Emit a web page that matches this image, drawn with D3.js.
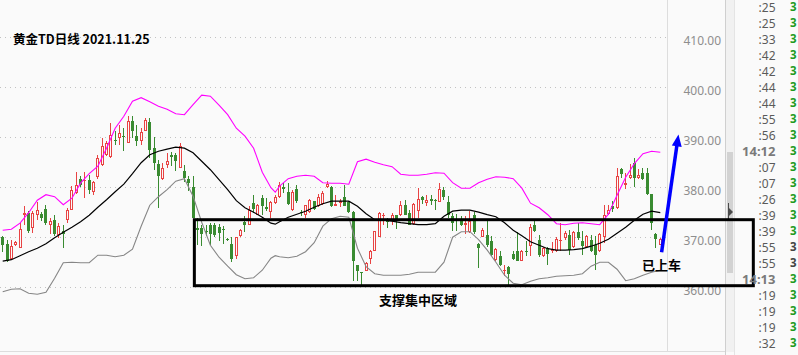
<!DOCTYPE html>
<html><head><meta charset="utf-8">
<script src="https://cdn.jsdelivr.net/npm/d3@7"></script>
<style>
html,body{margin:0;padding:0;background:#fafafa;overflow:hidden;}
svg{display:block;}
</style></head><body>
<svg id="c" width="798" height="355"></svg>
<script>
// ---------- data ----------
const opens = [369.9,368.5,365.6,368.4,367.7,374.3,374.7,371.7,374.3,374.5,375.5,372.4,373.3,370.4,371.2,373.4,375.3,378.7,381.5,381.2,
381.3,378.9,381.9,384.4,386.4,385.9,389.4,389.7,390.2,388.7,393.2,390.1,389.2,391.2,392.9,387.7,384.5,381.6,384.4,386.4,
386.4,383.7,383.1,381.6,379.9,371.7,371.7,371.2,372.3,372.4,371.9,371.5,369.6,368.5,366.1,370.1,372.9,372.4,376.7,374.4,
377.7,375.9,374.9,376.7,377.9,379.9,378.9,375.4,379.5,374.9,374.4,374.9,377.1,376.1,376.5,379.9,379.9,376.2,376.7,377.9,
376.9,374.9,364.3,362.9,363.2,365.6,367.2,370.0,374.1,373.3,373.2,374.3,374.3,376.4,374.7,372.5,375.2,377.9,376.7,377.5,
377.3,376.9,379.4,376.9,374.1,373.3,373.2,372.4,370.9,374.4,368.5,369.9,370.3,369.1,365.4,366.1,363.1,363.9,366.5,367.1,
365.2,367.2,368.2,372.4,369.3,366.1,367.7,367.1,367.1,369.2,369.7,370.4,367.9,370.9,369.2,367.9,369.4,368.3,367.1,369.9,
374.5,376.1,375.7,383.5,380.4,381.7,384.7,381.7,382.7,382.7,378.5,370.5,368.4];
const highs = [370.1,369.4,369.4,369.2,372.7,376.1,375.1,375.1,376.9,374.9,376.3,373.7,374.3,372.8,372.4,375.7,380.1,382.9,382.1,382.9,
382.3,381.1,386.4,389.7,389.1,392.7,391.1,392.4,391.7,394.1,394.1,392.4,391.7,393.7,393.7,389.9,385.4,384.7,386.7,387.0,
386.7,388.7,384.3,382.1,382.1,373.7,372.4,372.4,372.7,372.7,372.5,372.1,369.7,369.9,369.9,371.6,374.1,376.1,378.4,376.5,
378.4,377.7,377.1,378.3,380.9,380.7,380.7,379.4,380.4,375.4,376.4,377.5,377.2,378.5,379.1,381.1,380.2,378.3,377.6,380.3,
377.2,375.1,364.4,363.0,364.9,367.4,371.2,374.9,374.7,373.7,374.7,374.4,377.1,377.4,375.4,376.7,379.7,378.2,378.3,378.4,
377.5,380.7,379.9,378.1,374.7,374.5,374.1,374.1,375.1,374.9,368.7,371.7,373.1,370.1,367.7,367.2,364.4,364.1,367.1,370.9,
367.4,369.1,372.5,373.2,370.4,367.9,367.9,368.9,369.9,372.7,371.2,371.4,371.2,372.7,371.1,370.4,370.4,370.1,370.7,376.3,
376.3,377.1,383.7,383.7,382.7,384.5,385.7,383.6,383.7,383.7,378.5,370.7,369.7];
const lows = [366.9,364.9,365.6,368.2,367.7,372.4,370.7,370.7,373.4,373.2,372.4,370.5,370.1,369.7,367.7,372.7,375.3,378.5,379.9,377.7,
378.5,378.4,381.6,384.1,386.1,385.7,388.4,388.4,387.2,388.7,389.7,388.1,388.3,391.1,385.7,383.4,375.7,381.4,383.7,384.1,
383.2,383.7,380.9,379.1,373.7,368.4,368.1,370.1,368.4,370.0,369.1,368.5,369.1,365.0,365.6,369.9,370.9,372.3,374.7,374.3,
374.4,375.1,373.7,376.5,377.7,378.7,376.3,375.1,376.7,374.1,373.7,374.7,375.4,375.9,376.4,379.7,375.9,376.1,375.9,376.1,
374.7,361.1,361.2,360.4,363.1,364.5,367.1,369.9,372.4,371.7,372.4,371.6,374.1,374.3,372.3,372.3,373.7,376.5,376.1,376.3,
375.4,376.9,377.4,373.7,371.1,371.1,372.1,370.5,370.7,370.5,363.7,369.9,367.9,366.1,365.1,364.1,362.1,360.3,365.4,365.1,
365.1,366.1,366.1,370.9,365.9,365.9,364.3,366.7,366.9,367.1,369.4,366.3,367.7,369.4,366.3,367.7,366.9,363.4,366.9,368.7,
374.4,374.9,375.6,381.7,379.6,381.6,380.0,381.6,381.4,378.4,371.4,367.7,368.3];
const closes = [368.4,365.2,368.1,368.9,371.6,374.7,371.1,374.7,375.3,373.7,372.8,373.1,370.5,372.1,370.5,375.3,379.3,380.3,380.4,381.4,
379.3,380.9,385.7,388.1,388.7,390.4,389.2,390.7,390.0,393.1,391.1,389.1,390.9,393.4,387.4,384.7,382.1,383.7,385.1,385.9,
385.1,388.1,381.7,380.7,373.7,371.4,370.6,371.1,370.6,370.4,370.8,371.3,369.4,365.5,369.9,371.3,372.4,375.4,375.6,376.3,
376.1,375.6,376.9,377.9,380.3,379.6,376.5,378.9,377.1,374.7,376.3,377.4,375.6,377.9,378.7,380.5,376.1,376.5,377.2,376.1,
374.9,365.2,363.2,362.7,364.7,367.2,371.1,374.7,374.3,372.9,374.4,373.1,376.3,374.4,372.4,376.5,377.5,377.4,377.3,377.2,
377.2,379.5,377.9,374.4,372.7,373.1,372.4,372.7,373.1,370.9,367.7,371.4,368.4,366.4,367.5,364.4,363.3,362.5,365.6,365.2,
367.2,367.1,371.9,371.1,366.3,367.7,366.5,367.5,369.6,369.4,370.7,367.4,370.9,369.7,368.1,370.1,367.2,366.3,370.5,374.3,
375.4,375.6,382.1,382.5,380.7,382.3,381.7,382.3,381.6,378.5,372.8,369.6,369.6];

// Bollinger bands, at these candle indices
const bandIdx = [0,2,4,6,8,10,12,14,16,18,20,22,24,26,28,30,32,34,36,38,40,42,44,46,48,50,52,54,56,58,60,62,63,64,66,68,70,72,74,76,78,80,
82,84,86,88,90,92,94,96,98,100,102,104,106,108,110,112,114,116,118,120,122,124,126,128,130,132,134,136,138,140,142,144,146,148,150,152];
const upperBand = [371.3,371.5,372.7,374.8,377.3,378.4,378.0,376.4,377.7,380.7,382.6,384.1,387.7,391.7,394.1,397.1,397.8,397.0,396.1,395.5,394.6,394.4,396.4,398.3,398.1,396.3,394.4,391.7,390.1,387.7,382.9,379.8,378.9,380.1,381.6,382.1,382.3,382.1,380.8,380.7,380.7,380.5,
385.0,385.5,384.9,384.4,384.0,382.5,382.3,382.3,382.5,382.8,382.7,380.8,379.7,379.7,380.8,381.5,382.0,381.9,381.6,379.7,376.7,375.8,374.4,372.6,372.4,372.7,372.8,372.6,372.4,374.5,378.3,381.9,384.6,386.6,387.1,386.9];
const midBand = [365.1,365.4,366.2,367.0,367.7,368.6,369.8,370.9,371.9,373.0,374.3,375.9,377.4,379.0,380.5,382.6,384.8,386.4,387.1,387.5,387.9,387.7,386.8,385.1,383.4,381.4,379.4,377.2,375.8,374.9,373.9,372.7,372.5,373.0,373.9,374.5,375.1,375.9,376.6,377.1,377.1,377.1,
376.1,374.6,373.4,373.3,373.1,372.8,372.6,372.4,372.4,372.6,374.1,375.1,375.3,375.3,374.9,374.4,374.0,372.8,371.3,370.2,369.0,368.3,367.6,367.3,367.3,367.4,367.6,368.1,368.7,369.5,370.7,371.9,373.3,374.5,375.1,374.8];
const lowerBand = [359.0,359.5,359.6,358.7,358.5,358.9,361.7,364.8,364.9,364.8,364.8,366.3,366.3,366.0,366.3,367.5,372.1,376.3,378.0,379.4,381.1,381.6,378.1,372.9,368.3,365.9,364.1,362.4,361.6,361.8,363.3,365.7,366.2,366.0,365.8,366.1,367.0,368.8,372.1,373.6,374.1,373.9,
367.7,364.0,362.6,362.3,362.3,362.3,362.5,362.9,362.9,362.9,364.9,369.9,371.0,371.0,369.4,367.3,364.9,362.3,360.7,360.4,361.1,361.6,361.8,362.1,362.2,362.3,362.6,364.1,364.9,364.9,363.5,361.2,361.6,362.3,362.9,363.3];

const priceTicks = [360,370,380,390,400,410];
const timeLabels = [":25",":25",":33",":42",":42",":44",":44",":55",":56","14:12",":07",":07",":26",":39",":39",":55",":55","14:13",":19",":19",":19",":32"];
const timeDigits = ["3","3","3","3","3","3","3","3","3","3","3","3","3","3","3","3","3","3","3","3","3","3"];
const titleText = "黄金TD日线 2021.11.25";
const zoneText = "支撑集中区域";
const noteText = "已上车";
// support zone (candle index range, price range) and arrow (index, price)
const zoneStart = 44.3, zoneEnd = 173.5, zoneLow = 360.2, zoneHigh = 373.4;
const arrowFrom = [152.3, 366.9], arrowTo = [156.2, 390.45];

// ---------- drawing ----------
const W = 798, H = 355, BG = "#fafafa";
const RED = "#e84343", GREEN = "#398b31";
const svg = d3.select("#c");
svg.append("rect").attr("width", W).attr("height", H).attr("fill", BG);

const x = d3.scaleLinear().domain([0, 152]).range([2.7, 660.3]);
const y = d3.scaleLinear().domain([360, 410]).range([286.7, 36.7]);

// grid
svg.append("g").selectAll("line").data(priceTicks).join("line")
  .attr("x1", 0).attr("x2", 667)
  .attr("y1", d => Math.round(y(d)) + 0.5).attr("y2", d => Math.round(y(d)) + 0.5)
  .attr("stroke", "#c2c2c2").attr("stroke-dasharray", "1,4");

// panel lines
svg.append("line").attr("x1", 667.5).attr("x2", 667.5).attr("y1", 0).attr("y2", 352).attr("stroke", "#dddddd");
svg.append("line").attr("x1", 0).attr("x2", 726).attr("y1", 351.5).attr("y2", 351.5).attr("stroke", "#dddddd");
svg.append("rect").attr("x", 726).attr("y", 0).attr("width", 8).attr("height", 352).attr("fill", "#f1f1f1");
svg.append("line").attr("x1", 725.5).attr("x2", 725.5).attr("y1", 0).attr("y2", 355).attr("stroke", "#cfcfcf");
svg.append("line").attr("x1", 734.5).attr("x2", 734.5).attr("y1", 0).attr("y2", 355).attr("stroke", "#e4e4e4");
svg.append("rect").attr("x", 727).attr("y", 152).attr("width", 6).attr("height", 121).attr("fill", "#d2d2d2");
svg.append("path").attr("d", "M728,203 L729,203 L729,208 L733,212 L729,216 L729,220 L728,220 Z").attr("fill", "#4a4a4a");

// price axis
const axis = d3.axisLeft(y).tickValues(priceTicks).tickFormat(d3.format(".2f")).tickSize(0).tickPadding(0);
const ag = svg.append("g").attr("transform", "translate(721,0)").call(axis);
ag.select(".domain").remove();
ag.selectAll("text").attr("fill", "#8e8e8e").attr("dy", "0.62em")
  .style("font-family", "'Noto Sans', sans-serif").style("font-size", "12px");

// candles
const data = opens.map((o, i) => ({ i, o, h: highs[i], l: lows[i], c: closes[i] }));
const cg = svg.append("g").attr("shape-rendering", "crispEdges");
const cs = cg.selectAll("g").data(data).join("g");
cs.each(function (d) {
  const g = d3.select(this);
  const r = Math.floor(x(d.i));
  const up = d.c >= d.o;
  const T = Math.round(y(Math.max(d.o, d.c)));
  const B = Math.round(y(Math.min(d.o, d.c)));
  const hy = Math.round(y(d.h)), ly = Math.round(y(d.l));
  const col = up ? RED : GREEN;
  if (up && B - T >= 2) {
    if (hy < T) g.append("line").attr("x1", r + 0.5).attr("x2", r + 0.5).attr("y1", hy).attr("y2", T).attr("stroke", col);
    if (ly > B) g.append("line").attr("x1", r + 0.5).attr("x2", r + 0.5).attr("y1", B).attr("y2", ly).attr("stroke", col);
    g.append("rect").attr("x", r - 0.5).attr("y", T + 0.5).attr("width", 2).attr("height", B - T - 1)
      .attr("fill", BG).attr("stroke", col);
  } else {
    g.append("line").attr("x1", r + 0.5).attr("x2", r + 0.5).attr("y1", hy).attr("y2", Math.max(ly, hy + 1)).attr("stroke", col);
    g.append("rect").attr("x", r - 1).attr("y", T).attr("width", 3).attr("height", Math.max(1, B - T)).attr("fill", col);
  }
});

// bands
const bandLine = vals => d3.line().x((d, k) => x(bandIdx[k])).y(d => y(d))(vals);
const bg = svg.append("g").attr("fill", "none");
bg.append("path").attr("d", bandLine(lowerBand)).attr("stroke", "#868686").attr("stroke-width", 1.1);
bg.append("path").attr("d", bandLine(midBand)).attr("stroke", "#000").attr("stroke-width", 1.2);
bg.append("path").attr("d", bandLine(upperBand)).attr("stroke", "#ff00ff").attr("stroke-width", 1.1);

// support zone
svg.append("rect")
  .attr("x", x(zoneStart)).attr("y", y(zoneHigh))
  .attr("width", x(zoneEnd) - x(zoneStart)).attr("height", y(zoneLow) - y(zoneHigh))
  .attr("fill", "none").attr("stroke", "#000").attr("stroke-width", 3);

// arrow
{
  const sx = x(arrowFrom[0]), sy = y(arrowFrom[1]);
  const tx = x(arrowTo[0]), ty = y(arrowTo[1]);
  const len = Math.hypot(tx - sx, ty - sy);
  const ux = (tx - sx) / len, uy = (ty - sy) / len;
  const nx = -uy, ny = ux;
  const hl = 12, hw = 5;
  svg.append("line").attr("x1", sx).attr("y1", sy).attr("x2", tx - ux * 8).attr("y2", ty - uy * 8)
    .attr("stroke", "#0000ff").attr("stroke-width", 3.5);
  svg.append("path").attr("d", `M${tx},${ty} L${tx - ux * hl + nx * hw},${ty - uy * hl + ny * hw} L${tx - ux * hl - nx * hw},${ty - uy * hl - ny * hw} Z`)
    .attr("fill", "#0000ff");
}

// texts
const CJK = "'Noto Sans CJK SC', 'Noto Sans', sans-serif";
svg.append("text").attr("x", 13).attr("y", 44).text(titleText)
  .style("font-family", CJK).style("font-size", "12.5px").style("font-weight", "bold").attr("fill", "#000");
svg.append("text").attr("x", 418).attr("y", 305).attr("text-anchor", "middle").text(zoneText)
  .style("font-family", CJK).style("font-size", "13px").style("font-weight", "bold").attr("fill", "#000");
svg.append("text").attr("x", 661.5).attr("y", 270).attr("text-anchor", "middle").text(noteText)
  .style("font-family", CJK).style("font-size", "13px").style("font-weight", "bold").attr("fill", "#000");

// time list on the right
const tg = svg.append("g");
tg.selectAll("text.t").data(timeLabels).join("text").attr("class", "t")
  .attr("x", 775.5).attr("y", (d, k) => 7.3 + 16 * k).attr("dy", "0.36em").attr("text-anchor", "end")
  .text(d => d)
  .style("font-family", "'Noto Sans', sans-serif")
  .style("font-size", d => d.length > 3 ? "13px" : "12px")
  .style("font-weight", d => d.length > 3 ? "bold" : "normal")
  .attr("fill", d => d.length > 3 ? "#7a7a7a" : "#5a5a5a");
tg.selectAll("text.v").data(timeDigits).join("text").attr("class", "v")
  .attr("x", 790).attr("y", (d, k) => 7.3 + 16 * k).attr("dy", "0.36em")
  .text(d => d)
  .style("font-family", "'Noto Sans', sans-serif").style("font-size", "11.5px").style("font-weight", "bold")
  .attr("fill", (d, k) => (k === 15 || k === 16) ? "#444" : "#1f9b1f");
</script>
</body></html>
